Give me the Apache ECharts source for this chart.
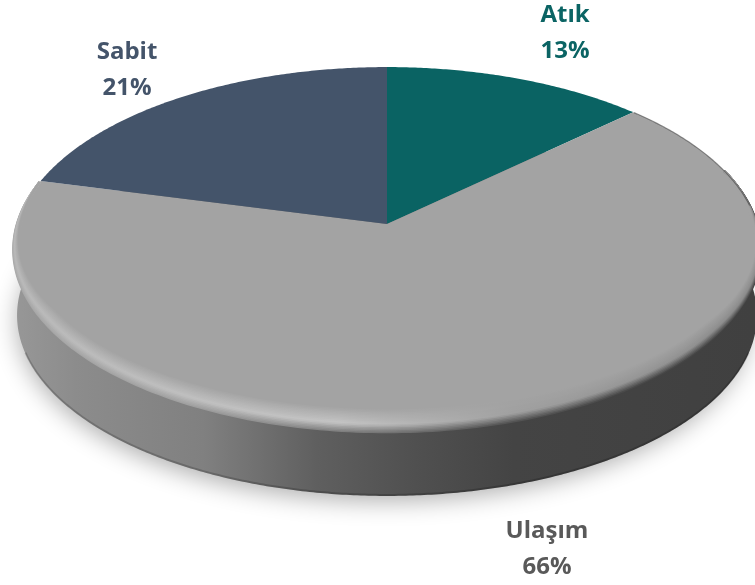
<!DOCTYPE html>
<html>
<head>
<meta charset="utf-8">
<style>
  html, body { margin: 0; padding: 0; background: #fff; }
  #chart { width: 755px; height: 585px; }
</style>
<script src="https://cdn.jsdelivr.net/npm/echarts@6/dist/echarts.min.js"></script>
</head>
<body>
<div id="chart"></div>
<script>
var names = ['Atık', 'Ulaşım', 'Sabit'];
var values = [13, 66, 21];
var sliceColors = ['#0a6363', '#a3a3a3', '#44546a'];
var labelColors = ['#0b6464', '#595959', '#44546a'];
var labelPos = [[565, 33], [547, 549], [127, 70]];

// tilted disc: apex of the wedges sits above the middle of the ellipse
var cx = 387, cy = 224, A = 178.9, B = 370, k = 0.14;
var wallHeight = 66;
var total = values.reduce(function (a, b) { return a + b; }, 0);

function project(deg, ru, rv, dy, scale) {
    var a = deg * Math.PI / 180;
    var u = Math.sin(a) * (ru === undefined ? 1 : ru);
    var v = -Math.cos(a) * (rv === undefined ? 1 : rv);
    var d = 1 - k * v;
    var s = scale || 1;
    return [cx + B * u / d * s, cy + (dy || 0) + A * v / d * s];
}

function arc(from, to, ru, rv, dy, scale) {
    var pts = [];
    var n = Math.max(2, Math.ceil(Math.abs(to - from) * 2));
    for (var i = 0; i <= n; i++) {
        pts.push(project(from + (to - from) * i / n, ru, rv, dy, scale));
    }
    return pts;
}

function xGradient(stops) {
    return new echarts.graphic.LinearGradient(0, 0, 755, 0, stops, true);
}

function mix(c1, c2, t) {
    var r = Math.round(c1 + (c2 - c1) * t);
    return 'rgb(' + r + ',' + r + ',' + r + ')';
}

function renderBody() {
    var shadowPts = arc(0, 360, 1, 1, wallHeight - 2, 0.98);
    var wallPts = arc(80, 280).concat(arc(280, 80, 1, 1, wallHeight, 0.99));
    return {
        type: 'group',
        children: [
            {
                type: 'polygon',
                shape: { points: shadowPts },
                style: { fill: '#777', shadowBlur: 24, shadowColor: 'rgba(0,0,0,0.32)', shadowOffsetX: -3, shadowOffsetY: 9 }
            },
            {
                type: 'polygon',
                shape: { points: wallPts },
                style: {
                    fill: xGradient([
                        { offset: 0, color: '#9a9a9a' },
                        { offset: 0.1, color: '#8c8c8c' },
                        { offset: 0.27, color: '#808080' },
                        { offset: 0.42, color: '#5f5f5f' },
                        { offset: 0.55, color: '#505050' },
                        { offset: 0.68, color: '#444444' },
                        { offset: 1, color: '#404040' }
                    ])
                }
            },
            {
                type: 'polyline',
                shape: { points: arc(110, 250, 1, 1, wallHeight - 1, 0.99) },
                style: { fill: null, stroke: 'rgba(0,0,0,0.18)', lineWidth: 2 }
            }
        ]
    };
}

function renderSlice(params, api) {
    var i = params.dataIndex;
    var before = 0;
    for (var j = 0; j < i; j++) before += values[j];
    var start = before / total * 360;
    var end = (before + api.value(0)) / total * 360;
    var pts = [[cx, cy]].concat(arc(start, end));
    return {
        type: 'polygon',
        shape: { points: pts },
        style: { fill: sliceColors[i] }
    };
}

function rimWidth(deg) {
    if (deg < 125) return Math.max(0, (deg - 72) / 53);
    if (deg > 240) return Math.max(0, (284 - deg) / 44);
    return 1;
}

// soft bevel along the front edge of the top face
function renderRim() {
    var layers = 16;
    var xStops = [0.03, 0.25, 0.45, 0.68, 0.98];
    var edge = [168, 160, 128, 84, 64];
    var peak = [186, 192, 196, 160, 140];
    var inner = 163;
    var children = [];
    for (var l = 0; l <= layers; l++) {
        var t = l / layers;
        var stops = xStops.map(function (x, s) {
            var c = t < 0.35 ? mix(edge[s], peak[s], t / 0.35) : mix(peak[s], inner, (t - 0.35) / 0.65);
            return { offset: x, color: c };
        });
        var pts = [];
        for (var deg = 72; deg <= 284; deg += 1) {
            var w = rimWidth(deg);
            pts.push(project(deg, 1 - t * w * 0.032, 1 - t * w * 0.1));
        }
        children.push({
            type: 'polyline',
            shape: { points: pts },
            style: { fill: null, stroke: xGradient(stops), lineWidth: 2.4 }
        });
    }
    children.push({
        type: 'polyline',
        shape: { points: arc(47, 84) },
        style: { fill: null, stroke: 'rgba(60,60,60,0.55)', lineWidth: 1.2 }
    });
    return { type: 'group', children: children };
}

function renderLabel(params, api) {
    var i = params.dataIndex;
    return {
        type: 'text',
        style: {
            text: names[i] + '\n' + api.value(0) + '%',
            x: labelPos[i][0],
            y: labelPos[i][1],
            fill: labelColors[i],
            font: 'bold 24px "Open Sans"',
            lineHeight: 36,
            align: 'center',
            verticalAlign: 'middle'
        }
    };
}

var sliceData = names.map(function (n, i) {
    return { name: n, value: [values[i]] };
});

var chart = echarts.init(document.getElementById('chart'));
chart.setOption({
    animation: false,
    backgroundColor: '#fff',
    series: [
        { type: 'custom', coordinateSystem: 'none', silent: true, z: 1, data: [[total]], renderItem: renderBody },
        { type: 'custom', coordinateSystem: 'none', silent: true, z: 2, data: sliceData, renderItem: renderSlice },
        { type: 'custom', coordinateSystem: 'none', silent: true, z: 3, data: [[total]], renderItem: renderRim },
        { type: 'custom', coordinateSystem: 'none', silent: true, z: 4, data: sliceData, renderItem: renderLabel }
    ]
});
</script>
</body>
</html>
